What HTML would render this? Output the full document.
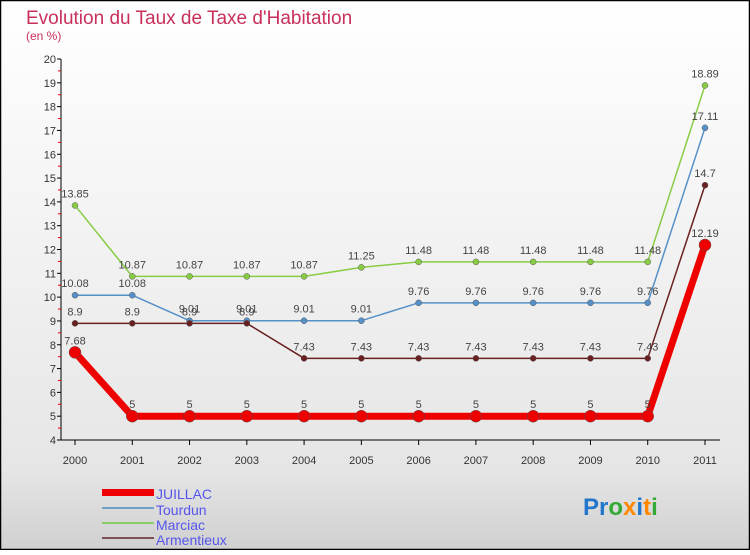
<!DOCTYPE html>
<html><head><meta charset="utf-8"><style>
body{margin:0}
#c{width:750px;height:550px;position:relative;font-family:"Liberation Sans",sans-serif}
</style></head><body>
<div id="c">
<svg id="s" width="750" height="550" xmlns="http://www.w3.org/2000/svg">
<defs>
<linearGradient id="bg" x1="0" y1="0" x2="0" y2="1">
<stop offset="0" stop-color="#ffffff"/><stop offset="0.85" stop-color="#e6e6e6"/><stop offset="1" stop-color="#d0d0d0"/>
</linearGradient>
</defs>
<rect x="0.5" y="0.5" width="749" height="549" fill="url(#bg)" stroke="#000" stroke-width="1.5"/>
<text x="26" y="24" font-size="19" fill="#c8305a">Evolution du Taux de Taxe d'Habitation</text>
<text x="26" y="40" font-size="12" fill="#c8305a">(en %)</text>
<g id="axes"></g>
<g id="series"></g>
<g>
<rect x="102" y="489" width="52" height="7" fill="#f00000"/>
<text x="156" y="499" font-size="14" fill="#5555ee">JUILLAC</text>
<rect x="102" y="507" width="52" height="2" fill="#6fa0c8"/>
<text x="156" y="515" font-size="14" fill="#5555ee">Tourdun</text>
<rect x="102" y="522" width="52" height="2" fill="#88cc66"/>
<text x="156" y="530" font-size="14" fill="#5555ee">Marciac</text>
<rect x="102" y="537" width="52" height="2" fill="#805050"/>
<text x="156" y="545" font-size="14" fill="#5555ee">Armentieux</text>
</g>
<text x="583" y="515" font-size="24" font-weight="bold"><tspan fill="#2277cc">Pr</tspan><tspan fill="#33aa33">o</tspan><tspan fill="#ff8800">x</tspan><tspan fill="#2277cc">i</tspan><tspan fill="#ff8800">t</tspan><tspan fill="#33aa33">i</tspan></text>
</svg>
</div>
<script>
const years=["2000","2001","2002","2003","2004","2005","2006","2007","2008","2009","2010","2011"];
const yTicks=[4,5,6,7,8,9,10,11,12,13,14,15,16,17,18,19,20];
const juillac=[7.68,5,5,5,5,5,5,5,5,5,5,12.19];
const tourdun=[10.08,10.08,9.01,9.01,9.01,9.01,9.76,9.76,9.76,9.76,9.76,17.11];
const marciac=[13.85,10.87,10.87,10.87,10.87,11.25,11.48,11.48,11.48,11.48,11.48,18.89];
const armentieux=[8.9,8.9,8.9,8.9,7.43,7.43,7.43,7.43,7.43,7.43,7.43,14.7];
const labJ=["7.68","5","5","5","5","5","5","5","5","5","5","12.19"];
const labT=["10.08","10.08","9.01","9.01","9.01","9.01","9.76","9.76","9.76","9.76","9.76","17.11"];
const labM=["13.85","10.87","10.87","10.87","10.87","11.25","11.48","11.48","11.48","11.48","11.48","18.89"];
const labA=["8.9","8.9","8.9","8.9","7.43","7.43","7.43","7.43","7.43","7.43","7.43","14.7"];
const NS="http://www.w3.org/2000/svg";
const X=i=>75+i*(630/11);
const Y=v=>440-(v-4)*(381/16);
function mk(t,a,p){const e=document.createElementNS(NS,t);for(const k in a)e.setAttribute(k,a[k]);p.appendChild(e);return e;}
const ax=document.getElementById('axes');
let l=mk('line',{x1:61,y1:Y(20),x2:61,y2:440,stroke:'#000'},ax);


l=mk('line',{x1:61,y1:440,x2:720,y2:440,stroke:'#000'},ax);


yTicks.forEach(v=>{
 mk('line',{x1:57,y1:Y(v),x2:61,y2:Y(v),stroke:'#000'},ax);
 if(v<20) mk('line',{x1:58,y1:Y(v+0.5),x2:61,y2:Y(v+0.5),stroke:'#d00'},ax);
 const t=mk('text',{x:56,y:Y(v)+4,'font-size':11,'text-anchor':'end',fill:'#333'},ax);t.textContent=v;
 
 
});
years.forEach((y,i)=>{
 mk('line',{x1:X(i),y1:440,x2:X(i),y2:445,stroke:'#000'},ax);
 const t=mk('text',{x:X(i),y:464,'font-size':11,'text-anchor':'middle',fill:'#333'},ax);t.textContent=y;
 
 
});
const sg=document.getElementById('series');
function series(vals,labs,col,w,r,name){
 const g=mk('g',{},sg);
 
 
 mk('polyline',{points:vals.map((v,i)=>X(i)+','+Y(v)).join(' '),fill:'none',stroke:col,'stroke-width':w,'stroke-linejoin':'round'},g);
 vals.forEach((v,i)=>{
  const c=mk('circle',{cx:X(i),cy:Y(v),r:r,fill:col,stroke:'#555','stroke-width':0.5},g);
  
  
  const t=mk('text',{x:X(i),y:Y(v)-8,'font-size':11,'text-anchor':'middle',fill:'#444'},g);t.textContent=labs[i];
 });
}
series(marciac,labM,'#88cc44',1.5,3,'marciac');
series(tourdun,labT,'#5590c8',1.5,3,'tourdun');
series(armentieux,labA,'#6a2020',1.5,3,'armentieux');
series(juillac,labJ,'#ee0000',7,6,'juillac');
</script>
</body></html>
